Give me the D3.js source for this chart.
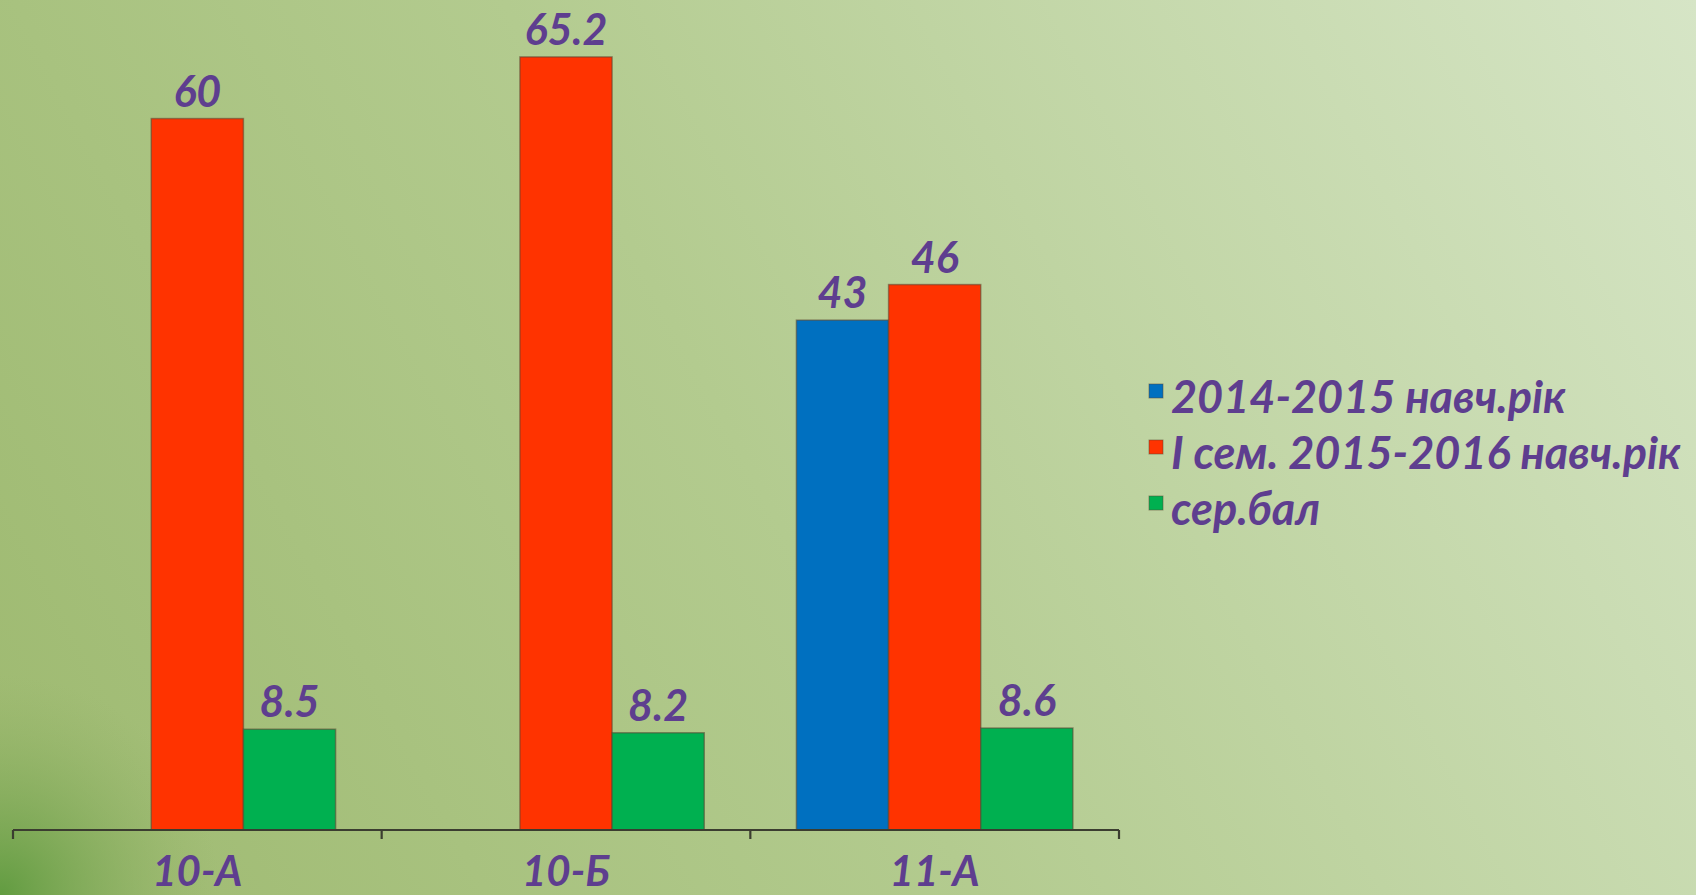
<!DOCTYPE html>
<html>
<head>
<meta charset="utf-8">
<script src="https://cdn.jsdelivr.net/npm/d3@7/dist/d3.min.js"></script>
<style>
  html, body { margin: 0; padding: 0; overflow: hidden; }
  svg { display: block; }
</style>
</head>
<body>
<svg id="chart" width="1696" height="895"></svg>
<script>
const categories = ["10-А", "10-Б", "11-А"];
const seriesNames = ["2014-2015 навч.рік", "І сем. 2015-2016 навч.рік", "сер.бал"];
const seriesColors = ["#0070C0", "#FF3300", "#00B050"];
const series2014 = [null, null, 43];
const seriesSem1 = [60, 65.2, 46];
const seriesAvg = [8.5, 8.2, 8.6];
const valueLabels2014 = [null, null, "43"];
const valueLabelsSem1 = ["60", "65.2", "46"];
const valueLabelsAvg = ["8.5", "8.2", "8.6"];
const yDomain = [0, 70];

const W = 1696, H = 895;
const svg = d3.select("#chart");
const defs = svg.append("defs");

// background
const lg = defs.append("linearGradient").attr("id", "bg")
  .attr("gradientUnits", "userSpaceOnUse")
  .attr("x1", 0).attr("y1", 895).attr("x2", 1696).attr("y2", 0);
lg.append("stop").attr("offset", "0%").attr("stop-color", "#9db96f");
lg.append("stop").attr("offset", "45%").attr("stop-color", "#b3cb8f");
lg.append("stop").attr("offset", "100%").attr("stop-color", "#d6e5c6");
svg.append("rect").attr("width", W).attr("height", H).attr("fill", "url(#bg)");
const rg = defs.append("radialGradient").attr("id", "corner")
  .attr("gradientUnits", "userSpaceOnUse")
  .attr("cx", 0).attr("cy", 895).attr("r", 220);
rg.append("stop").attr("offset", "0%").attr("stop-color", "#5e9a3e").attr("stop-opacity", 0.95);
rg.append("stop").attr("offset", "100%").attr("stop-color", "#8fb063").attr("stop-opacity", 0);
svg.append("rect").attr("width", W).attr("height", H).attr("fill", "url(#corner)");

const x0 = d3.scaleBand().domain(categories).range([13, 1119]).paddingInner(0).paddingOuter(0);
const x1 = d3.scaleBand().domain(d3.range(3)).range([0, x0.bandwidth()]).paddingInner(0).paddingOuter(0.5);
const y = d3.scaleLinear().domain(yDomain).range([830, 0]);

const seriesData = [series2014, seriesSem1, seriesAvg];
const labelData = [valueLabels2014, valueLabelsSem1, valueLabelsAvg];

const textColor = "#5E3E8F";
const font = "Lato, 'Open Sans', sans-serif";

const bars = svg.append("g");
seriesData.forEach((vals, si) => {
  const g = bars.append("g");
  categories.forEach((c, ci) => {
    const v = vals[ci];
    if (v == null) return;
    g.append("rect")
      .attr("x", x0(c) + x1(si))
      .attr("y", y(v))
      .attr("width", x1.bandwidth())
      .attr("height", y(0) - y(v))
      .attr("fill", seriesColors[si])
      .attr("stroke", "rgba(90,70,50,0.55)")
      .attr("stroke-width", 1.5);
    g.append("text")
      .attr("x", x0(c) + x1(si) + x1.bandwidth() / 2)
      .attr("y", y(v) - 12)
      .attr("text-anchor", "middle")
      .attr("font-family", font)
      .attr("font-weight", "bold")
      .attr("font-style", "italic")
      .attr("font-size", 43)
      .attr("fill", textColor)
      .text(labelData[si][ci]);
  });
});

// axis
const axis = d3.axisBottom(x0).tickSize(9).tickFormat("");
const ag = svg.append("g").attr("transform", `translate(0,${y(0)})`).call(axis);
ag.select(".domain").remove();
ag.selectAll(".tick").remove();
const ticksX = [x0.range()[0]].concat(categories.map(c => x0(c) + x0.bandwidth()));
ag.append("line").attr("x1", 13).attr("x2", 1119).attr("y1", 0).attr("y2", 0)
  .attr("stroke", "#3b3d30").attr("stroke-width", 2.2);
ag.selectAll(".tk").data(ticksX).enter().append("line")
  .attr("x1", d => d).attr("x2", d => d).attr("y1", 0).attr("y2", 9)
  .attr("stroke", "#3b3d30").attr("stroke-width", 2.2);
ag.selectAll(".cat").data(categories).enter().append("text")
  .attr("x", d => x0(d) + x0.bandwidth() / 2)
  .attr("y", 56)
  .attr("text-anchor", "middle")
  .attr("font-family", font)
  .attr("font-weight", "bold")
  .attr("font-style", "italic")
  .attr("font-size", 42)
  .attr("fill", textColor)
  .text(d => d);

// legend
const leg = svg.append("g").attr("transform", "translate(1149,0)");
seriesNames.forEach((n, i) => {
  const yy = 413 + i * 56;
  leg.append("rect").attr("x", 0).attr("y", yy - 29).attr("width", 14).attr("height", 14)
    .attr("fill", seriesColors[i]).attr("stroke", "rgba(90,70,50,0.5)").attr("stroke-width", 1);
  leg.append("text").attr("x", 22).attr("y", yy)
    .attr("font-family", font)
    .attr("font-weight", "bold")
    .attr("font-style", "italic")
    .attr("font-size", 45)
    .attr("fill", textColor)
    .text(n);
});
</script>
</body>
</html>
